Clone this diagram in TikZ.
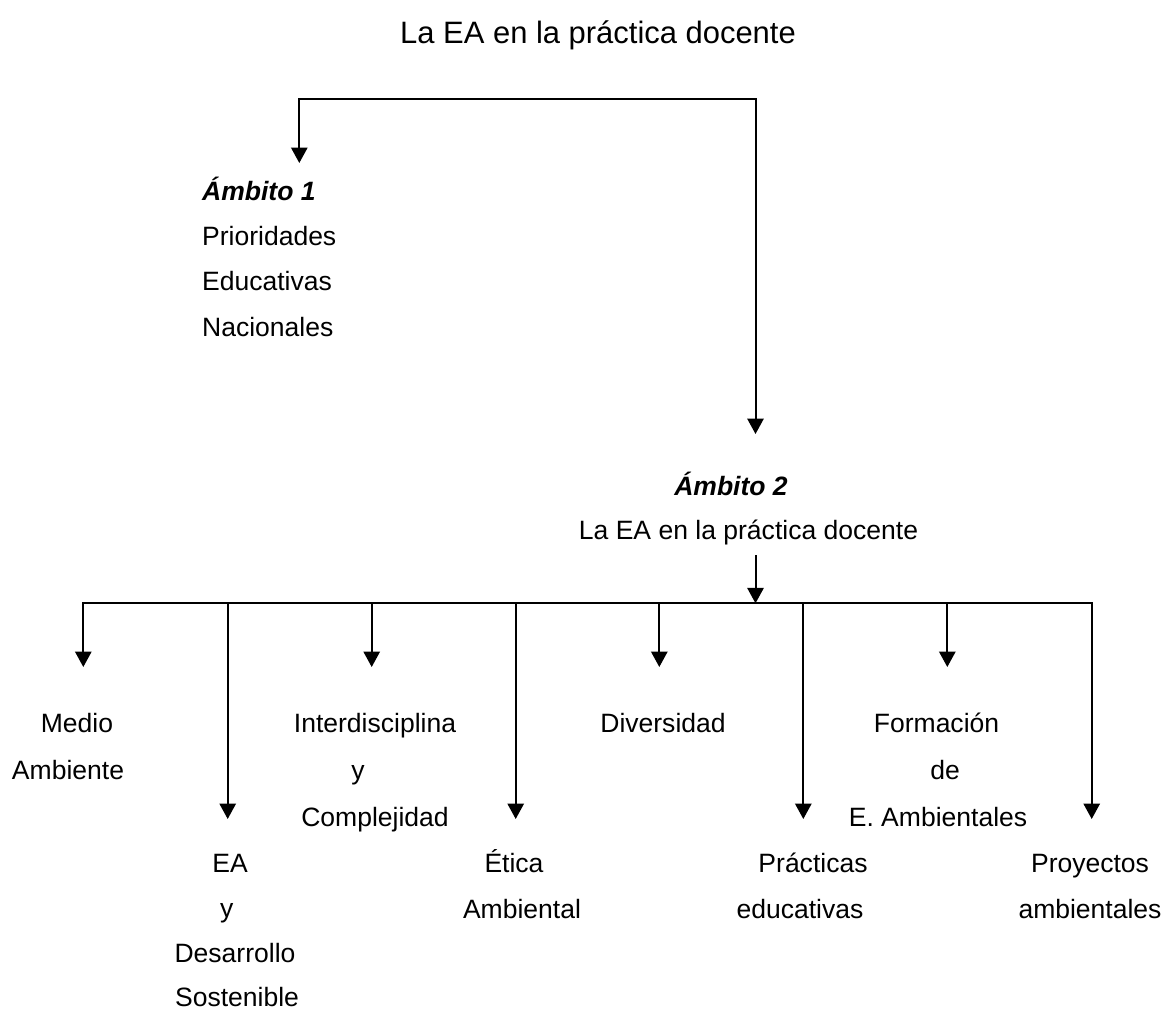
\documentclass[tikz,border=0pt]{standalone}
\usepackage{fontspec}
\setmainfont{Liberation Sans}
\usetikzlibrary{arrows.meta}
\begin{document}
\tikzset{
  lbl/.style={inner sep=0pt, anchor=base, font=\fontsize{12pt}{14pt}\selectfont},
  ttl/.style={inner sep=0pt, anchor=base, font=\fontsize{14pt}{17pt}\selectfont},
  amb/.style={inner sep=0pt, anchor=base, font=\fontsize{12pt}{14pt}\selectfont\bfseries\itshape},
  tip/.tip={Triangle[width=7.4pt,length=7pt]},
  conn/.style={line width=0.9pt, -tip},
  both/.style={line width=0.9pt, tip-tip},
}
\begin{tikzpicture}[x=0.4525pt,y=-0.4525pt]
\useasboundingbox (0,0) rectangle (1165,1011);

% title
\node[ttl] (title) at (598,43) {La EA en la práctica docente};

% Ambito 1
\node[amb, anchor=base west] (a1h) at (201.7,200) {Ámbito 1};
\node[lbl, anchor=base west] (a1l1) at (201.7,245) {Prioridades};
\node[lbl, anchor=base west] (a1l2) at (201.7,290.5) {Educativas};
\node[lbl, anchor=base west] (a1l3) at (201.7,336) {Nacionales};

% Ambito 2
\node[amb] (a2h) at (731,495) {Ámbito 2};
\node[lbl] (a2l1) at (748.5,539.5) {La EA en la práctica docente};

% top connector
\coordinate (a1in) at (299.3,163);
\coordinate (topL) at (299.3,99.3);
\coordinate (a2in) at (755.5,434);
\draw[both] (a1in) -- (topL) -| (a2in);

% down to bus
\coordinate (a2out) at (755.5,555);
\coordinate (busC) at (755.5,603.3);
\draw[conn] (a2out) -- (busC);

% bus and branches
\foreach \i/\x/\t in {1/83.3/667, 2/227.7/819, 3/371.7/667, 4/515.7/819,
                      5/659.3/667, 6/803.3/819, 7/947.3/667, 8/1091.7/819}{
  \coordinate (b\i) at (\x,603.3);
  \coordinate (t\i) at (\x,\t);
}
\draw[both] (t1) |- (b8) -- (t8);
\foreach \i in {2,...,7}{ \draw[conn] (b\i) -- (t\i); }

% row 1 labels
\node[lbl] (n1a) at (77,732.5) {Medio};
\node[lbl] (n1b) at (68,779.5) {Ambiente};

\node[lbl] (n3a) at (375,732.5) {Interdisciplina};
\node[lbl] (n3b) at (358,779.5) {y};
\node[lbl] (n3c) at (375,826.5) {Complejidad};

\node[lbl] (n5a) at (663,732.5) {Diversidad};

\node[lbl] (n7a) at (936.5,732.5) {Formación};
\node[lbl] (n7b) at (945,779.5) {de};
\node[lbl] (n7c) at (938,826.5) {E. Ambientales};

% row 2 labels
\node[lbl] (n2a) at (230,872) {EA};
\node[lbl] (n2b) at (226.7,917) {y};
\node[lbl] (n2c) at (235,962) {Desarrollo};
\node[lbl] (n2d) at (237,1006) {Sostenible};

\node[lbl] (n4a) at (514,872) {Ética};
\node[lbl] (n4b) at (522,918) {Ambiental};

\node[lbl] (n6a) at (813,872) {Prácticas};
\node[lbl] (n6b) at (800,918) {educativas};

\node[lbl] (n8a) at (1090,872) {Proyectos};
\node[lbl] (n8b) at (1090,918) {ambientales};
\end{tikzpicture}
\end{document}
